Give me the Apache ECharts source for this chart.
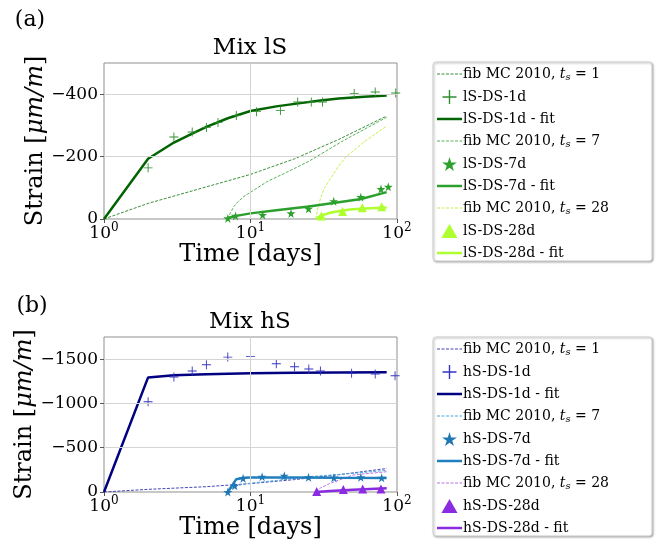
<!DOCTYPE html>
<html>
<head>
<meta charset="utf-8">
<script src="https://cdn.jsdelivr.net/npm/echarts@6/dist/echarts.min.js"></script>
<style>
  html, body { margin: 0; padding: 0; background: #fff; }
  #chart { width: 656px; height: 545px; }
</style>
</head>
<body>
<div id="chart"></div>
<script>
// ---- Mix lS (a) ----
const lsFib1Days = [1, 2, 5, 10, 20, 40, 85];
const lsFib1Vals = [0, -50, -103, -143, -193, -255, -330];
const ls1dDays = [2, 3, 4, 5, 6, 8, 11, 16, 21, 26, 31, 51, 71, 98];
const ls1dVals = [-164, -263, -279, -293, -309, -332, -344, -348, -375, -375, -375, -402, -407, -404];
const ls1dFitDays = [1, 2, 3, 4, 5, 7, 10, 15, 20, 30, 40, 60, 85];
const ls1dFitVals = [0, -193, -245, -274, -295, -323, -346, -361, -369, -380, -386, -392, -396];
const lsFib7Days = [7, 7.3, 7.7, 8.2, 9, 10.5, 13, 17.7, 25, 43, 85];
const lsFib7Vals = [0, -20, -40, -55, -72, -92, -120, -150, -185, -251, -326];
const ls7dDays = [7, 7.9, 12.1, 18.9, 24.9, 37, 56.6, 77.8, 87.2];
const ls7dVals = [-2, -10, -13, -18, -33, -57, -70, -96, -103];
const ls7dFitDays = [7, 8, 10, 15, 25, 40, 57, 85];
const ls7dFitVals = [-3, -10, -18, -28, -40, -54, -64, -86];
const lsFib28Days = [28, 28.5, 30, 32, 35, 40, 45, 60, 85];
const lsFib28Vals = [0, -25, -65, -100, -128, -170, -200, -248, -298];
const ls28dDays = [30.5, 42.5, 58, 78.6];
const ls28dVals = [-10, -24, -36, -39];
const ls28dFitDays = [28, 30, 35, 42.5, 50, 60, 85];
const ls28dFitVals = [0, -10, -20, -27, -31, -34, -37];

// ---- Mix hS (b) ----
const hsFib1Days = [1, 2, 5, 10, 20, 40, 85];
const hsFib1Vals = [0, -30, -60, -95, -140, -195, -265];
const hs1dDays = [2, 3, 4, 5, 7, 10, 15, 20, 25, 30, 49, 71, 97];
const hs1dVals = [-1019, -1298, -1366, -1437, -1523, -1531, -1448, -1414, -1388, -1366, -1340, -1332, -1313];
const hs1dFitDays = [1, 2, 3, 5, 10, 20, 40, 85];
const hs1dFitVals = [0, -1294, -1318, -1330, -1340, -1345, -1349, -1351];
const hsFib7Days = [7, 7.5, 8, 9, 10, 15, 25, 50, 85];
const hsFib7Vals = [0, -45, -70, -88, -100, -130, -173, -210, -245];
const hs7dDays = [7, 7.8, 8.9, 12, 17, 24.9, 37.1, 56.6, 78.6];
const hs7dVals = [0, -71, -154, -173, -184, -166, -161, -166, -161];
const hs7dFitDays = [7, 8, 9, 10, 20, 40, 85];
const hs7dFitVals = [0, -145, -160, -163, -163, -160, -158];
const hsFib28Days = [28, 30, 35, 50, 85];
const hsFib28Vals = [0, -45, -98, -192, -229];
const hs28dDays = [28.3, 43, 58.3, 77.7];
const hs28dVals = [-5, -27, -34, -34];
const hs28dFitDays = [28, 35, 50, 85];
const hs28dFitVals = [0, -11, -26, -42];

// tick labels
const xTicks = [1, 10, 100];
const lsYTicks = [-400, -200, 0];
const hsYTicks = [-1500, -1000, -500, 0];

const FONT = 'DejaVu Serif';
const PLUS = 'path://M45,0 H55 V45 H100 V55 H55 V100 H45 V55 H0 V45 H45 Z';
const STAR = 'path://M50,0 L61,35 L98,35 L68,57 L79,91 L50,70 L21,91 L32,57 L2,35 L39,35 Z';
const TRI = 'path://M50,0 L100,87 L0,87 Z';
// legend samples for lines
const DASH_ICON = 'path://M0,0h3v1h-3z M4.5,0h3v1h-3z M9,0h3v1h-3z M13.5,0h3v1h-3z M18,0h3v1h-3z M22.5,0h2.5v1h-2.5z';
const SOLID_ICON = 'path://M0,0h25v2.5h-25z';

function zip(xs, ys) {
  return xs.map(function (x, i) { return [x, ys[i]]; });
}

function lineS(name, gi, xs, ys, color, width, dashed) {
  return {
    name: name, type: 'line', xAxisIndex: gi, yAxisIndex: gi,
    data: zip(xs, ys), symbol: 'none', smooth: false,
    lineStyle: { color: color, width: width, type: dashed ? [3, 1.5] : 'solid' },
    itemStyle: { color: color },
    z: dashed ? 2 : 3
  };
}

function scatterS(name, gi, xs, ys, color, symbol, size) {
  return {
    name: name, type: 'scatter', xAxisIndex: gi, yAxisIndex: gi,
    data: zip(xs, ys), symbol: symbol, symbolSize: size,
    itemStyle: { color: color, opacity: 1 }, z: 4
  };
}

function gridLines(gi, ticks) {
  const d = ticks.filter(function (t) { return t !== 0; }).map(function (t) { return { yAxis: t }; });
  d.push({ xAxis: 10 });
  return {
    name: 'grid' + gi, type: 'line', xAxisIndex: gi, yAxisIndex: gi, data: [], z: 1,
    markLine: {
      silent: true, symbol: 'none', label: { show: false },
      lineStyle: { color: '#d4d4d4', width: 1, type: 'solid' },
      data: d
    }
  };
}

const lsNames = ['lS fib 1', 'lS-DS-1d', 'lS-DS-1d - fit', 'lS fib 7', 'lS-DS-7d', 'lS-DS-7d - fit', 'lS fib 28', 'lS-DS-28d', 'lS-DS-28d - fit'];
const hsNames = ['hS fib 1', 'hS-DS-1d', 'hS-DS-1d - fit', 'hS fib 7', 'hS-DS-7d', 'hS-DS-7d - fit', 'hS fib 28', 'hS-DS-28d', 'hS-DS-28d - fit'];

const series = [
  gridLines(0, lsYTicks),
  lineS(lsNames[0], 0, lsFib1Days, lsFib1Vals, '#3a8f3a', 1, true),
  scatterS(lsNames[1], 0, ls1dDays, ls1dVals, '#2f8f2f', PLUS, 9),
  lineS(lsNames[2], 0, ls1dFitDays, ls1dFitVals, '#006400', 2.5, false),
  lineS(lsNames[3], 0, lsFib7Days, lsFib7Vals, '#55b455', 1, true),
  scatterS(lsNames[4], 0, ls7dDays, ls7dVals, '#2ca02c', STAR, 9),
  lineS(lsNames[5], 0, ls7dFitDays, ls7dFitVals, '#2ca02c', 2.5, false),
  lineS(lsNames[6], 0, lsFib28Days, lsFib28Vals, '#c0f050', 1, true),
  scatterS(lsNames[7], 0, ls28dDays, ls28dVals, '#adff2f', TRI, 9),
  lineS(lsNames[8], 0, ls28dFitDays, ls28dFitVals, '#adff2f', 2.5, false),

  gridLines(1, hsYTicks),
  lineS(hsNames[0], 1, hsFib1Days, hsFib1Vals, '#4646b4', 1, true),
  scatterS(hsNames[1], 1, hs1dDays, hs1dVals, '#3434c4', PLUS, 9),
  lineS(hsNames[2], 1, hs1dFitDays, hs1dFitVals, '#000080', 2.5, false),
  lineS(hsNames[3], 1, hsFib7Days, hsFib7Vals, '#4fa9dc', 1, true),
  scatterS(hsNames[4], 1, hs7dDays, hs7dVals, '#1f77b4', STAR, 9),
  lineS(hsNames[5], 1, hs7dFitDays, hs7dFitVals, '#1f7fbf', 2.5, false),
  lineS(hsNames[6], 1, hsFib28Days, hsFib28Vals, '#b673e6', 1, true),
  scatterS(hsNames[7], 1, hs28dDays, hs28dVals, '#8a2be2', TRI, 9),
  lineS(hsNames[8], 1, hs28dFitDays, hs28dFitVals, '#8a2be2', 2.5, false)
];

function xAxisCfg(gi) {
  return {
    type: 'log', logBase: 10, gridIndex: gi, min: 1, max: 100,
    name: 'Time [days]', nameLocation: 'middle', nameGap: 22,
    nameTextStyle: { fontFamily: FONT, fontSize: 24, color: '#000' },
    axisLine: { show: false },
    axisTick: { show: true, length: 4, lineStyle: { color: '#555' } },
    splitLine: { show: false },
    axisLabel: {
      margin: 3, color: '#000',
      formatter: function (v) { return '{b|10}{s|' + Math.round(Math.log10(v)) + '}'; },
      rich: {
        b: { fontFamily: FONT, fontSize: 17, color: '#000', lineHeight: 20, verticalAlign: 'bottom' },
        s: { fontFamily: FONT, fontSize: 12, color: '#000', lineHeight: 20, verticalAlign: 'top' }
      }
    }
  };
}

function yAxisCfg(gi, min, step, ticks) {
  return {
    type: 'value', gridIndex: gi, inverse: true, min: min, max: 0, interval: step,
    name: 'Strain [{i|μm/m}]', nameLocation: 'middle', nameGap: 51, nameRotate: 90,
    nameTextStyle: {
      fontFamily: FONT, fontSize: 24, color: '#000',
      rich: { i: { fontFamily: FONT, fontSize: 24, fontStyle: 'italic', color: '#000' } }
    },
    axisLine: { show: false },
    axisTick: { show: true, length: 4, lineStyle: { color: '#555' }, customValues: ticks },
    splitLine: { show: false },
    axisLabel: {
      margin: 6, color: '#000', fontFamily: FONT, fontSize: 17, customValues: ticks,
      formatter: function (v) { return v === 0 ? '0' : '\u2212' + Math.abs(v); }
    }
  };
}

function legendCfg(names, top) {
  return {
    orient: 'vertical', left: 437, top: top, padding: 0,
    itemWidth: 25, itemHeight: 14, itemGap: 8, z: 10,
    data: names.map(function (n, i) {
      if (i % 3 === 0) return { name: n, icon: DASH_ICON };
      if (i % 3 === 2) return { name: n, icon: SOLID_ICON };
      return { name: n };
    }),
    formatter: function (n) {
      const m = n.match(/^[lh]S fib (\d+)$/);
      return m ? 'fib MC 2010, {it|t}{sub|s} = ' + m[1] : n;
    },
    textStyle: {
      fontFamily: FONT, fontSize: 14, color: '#000', padding: [0, 0, 0, -4],
      rich: {
        it: { fontFamily: FONT, fontSize: 14, fontStyle: 'italic', color: '#000' },
        sub: { fontFamily: FONT, fontSize: 10, fontStyle: 'italic', color: '#000', padding: [6, 0, 0, 0] }
      }
    }
  };
}

function txt(x, y, s, size) {
  return {
    type: 'text', x: x, y: y, z: 10,
    style: { text: s, font: size + 'px "' + FONT + '"', fill: '#000', align: 'center', verticalAlign: 'middle' }
  };
}

function box(y) {
  return {
    type: 'rect', z: 0,
    shape: { x: 433, y: y, width: 219, height: 199, r: 3 },
    style: {
      fill: '#fff', stroke: '#cfcfcf', lineWidth: 1,
      shadowBlur: 2, shadowOffsetX: 1, shadowOffsetY: 1, shadowColor: 'rgba(0,0,0,0.3)'
    }
  };
}

const chart = echarts.init(document.getElementById('chart'), null, { renderer: 'canvas' });
chart.setOption({
  animation: false,
  backgroundColor: '#fff',
  grid: [
    { left: 104, top: 63, width: 293, height: 156, show: true, borderColor: '#8f8f8f', borderWidth: 1, backgroundColor: 'transparent' },
    { left: 104, top: 337, width: 293, height: 155, show: true, borderColor: '#8f8f8f', borderWidth: 1, backgroundColor: 'transparent' }
  ],
  xAxis: [xAxisCfg(0), xAxisCfg(1)],
  yAxis: [yAxisCfg(0, -500, 100, lsYTicks), yAxisCfg(1, -1750, 250, hsYTicks)],
  legend: [legendCfg(lsNames, 67), legendCfg(hsNames, 342)],
  graphic: [
    box(62), box(337),
    txt(30, 20, '(a)', 22),
    txt(250, 48, 'Mix lS', 23),
    txt(32, 306, '(b)', 22),
    txt(250, 322, 'Mix hS', 23)
  ],
  series: series
});
</script>
</body>
</html>
